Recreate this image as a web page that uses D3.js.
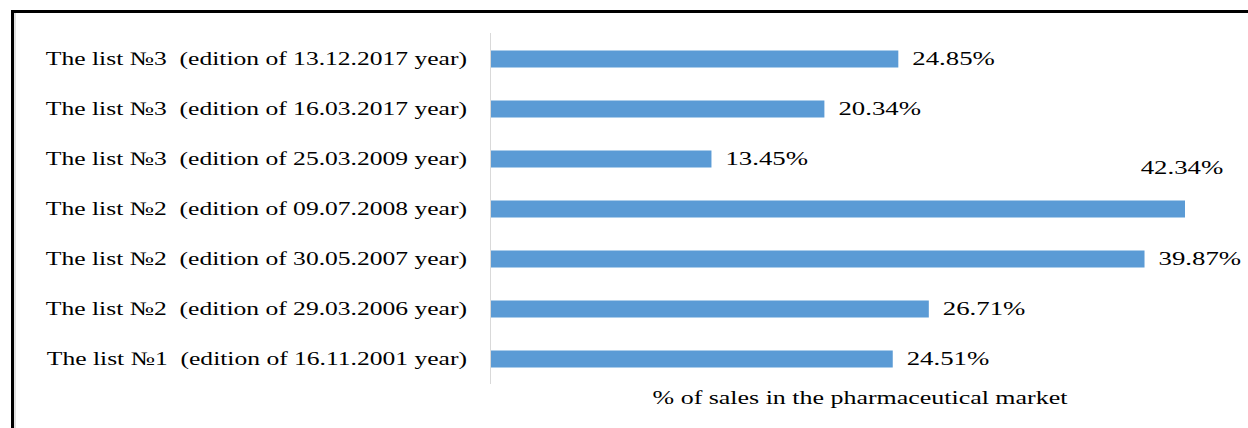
<!DOCTYPE html>
<html><head><meta charset="utf-8">
<script src="https://cdn.jsdelivr.net/npm/d3@7"></script>
<style>
html,body{margin:0;padding:0;background:#fff;overflow:hidden}
text{font-family:"Liberation Serif","Times New Roman",serif;fill:#000}
</style></head>
<body><svg id="c" width="1248" height="428"></svg>
<script>
const categories = [
  "The list №3  (edition of 13.12.2017 year)",
  "The list №3  (edition of 16.03.2017 year)",
  "The list №3  (edition of 25.03.2009 year)",
  "The list №2  (edition of 09.07.2008 year)",
  "The list №2  (edition of 30.05.2007 year)",
  "The list №2  (edition of 29.03.2006 year)",
  "The list №1  (edition of 16.11.2001 year)"
];
const values = [24.85, 20.34, 13.45, 42.34, 39.87, 26.71, 24.51];
const valueLabels = ["24.85%", "20.34%", "13.45%", "42.34%", "39.87%", "26.71%", "24.51%"];
const axisTitle = "% of sales in the pharmaceutical market";

const svg = d3.select("#c");
const FS = 19;

// frame
svg.append("rect").attr("x", 12.5).attr("y", 11.5).attr("width", 1300).attr("height", 500)
  .attr("fill", "none").attr("stroke", "#000").attr("stroke-width", 3);
svg.append("line").attr("x1", 15).attr("x2", 15).attr("y1", 13).attr("y2", 428)
  .attr("stroke", "#e0e0e0").attr("stroke-width", 2);

const x = d3.scaleLinear().domain([0, 42.34]).range([491, 1185]);
const y = d3.scaleBand().domain(categories).range([34, 384]).paddingInner(0.66).paddingOuter(0.33);

function stretchText(sx) {
  return sel => sel.each(function() {
    const w = this.getComputedTextLength();
    d3.select(this).attr("textLength", w * sx).attr("lengthAdjust", "spacingAndGlyphs");
  });
}

// bars
svg.append("g").selectAll("rect").data(values).join("rect")
  .attr("x", x(0)).attr("y", (d, i) => y(categories[i]))
  .attr("width", d => x(d) - x(0)).attr("height", y.bandwidth())
  .attr("fill", "#5B9BD5");

// axis line
svg.append("line").attr("x1", 490.5).attr("x2", 490.5).attr("y1", 33).attr("y2", 384)
  .attr("stroke", "#d9d9d9").attr("stroke-width", 1);

// category labels
svg.append("g").selectAll("text").data(categories).join("text")
  .attr("x", 467).attr("y", d => y(d) + y.bandwidth() / 2 + 6)
  .attr("text-anchor", "end").attr("font-size", FS)
  .style("white-space", "pre").attr("xml:space", "preserve")
  .text(d => d).call(stretchText(1.345));

// value labels
const mid = (i) => y(categories[i]) + y.bandwidth() / 2;
const vmax = d3.max(values);
svg.append("g").selectAll("text").data(values).join("text")
  .attr("x", d => d === vmax ? x(d) - 3 : x(d) + 14)
  .attr("y", (d, i) => d === vmax ? mid(i) - 35 : mid(i) + 6)
  .attr("text-anchor", d => d === vmax ? "middle" : "start")
  .attr("font-size", FS)
  .text((d, i) => valueLabels[i]).call(stretchText(1.41));

// axis title
svg.append("text").attr("x", 860).attr("y", 404).attr("text-anchor", "middle")
  .attr("font-size", FS).style("white-space", "pre").attr("xml:space", "preserve")
  .text(axisTitle).call(stretchText(1.365));
</script></body></html>
